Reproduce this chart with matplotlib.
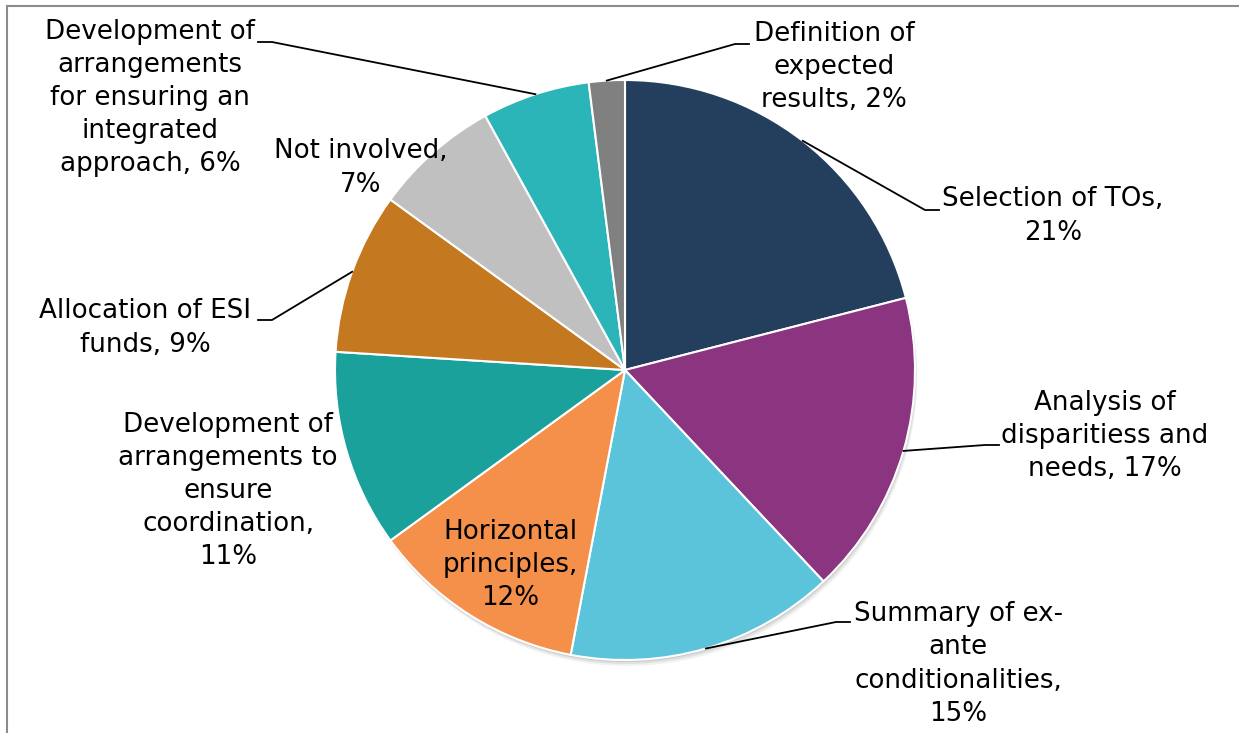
import numpy as np
import matplotlib.pyplot as plt
from matplotlib.patches import Circle

labels = ['Selection of TOs,\n21%',
          'Analysis of\ndisparitiess and\nneeds, 17%',
          'Summary of ex-\nante\nconditionalities,\n15%',
          'Horizontal\nprinciples,\n12%',
          'Development of\narrangements to\nensure\ncoordination,\n11%',
          'Allocation of ESI\nfunds, 9%',
          'Not involved,\n7%',
          'Development of\narrangements\nfor ensuring an\nintegrated\napproach, 6%',
          'Definition of\nexpected\nresults, 2%']
shares = [21, 17, 15, 12, 11, 9, 7, 6, 2]
colors = ['#243f5e', '#8b3480', '#5bc4da', '#f4904a', '#1ba19c',
          '#c4781f', '#c0c0c0', '#2cb5b8', '#808080']

W, H = 1239, 733
fig = plt.figure(figsize=(W / 100, H / 100), dpi=100)
ax = fig.add_axes([0, 0, 1, 1])

cx, cy, R = 625, H - 370, 290

# soft shadow under the pie
for k, a in [(6, 0.05), (4, 0.07), (2, 0.10)]:
    ax.add_patch(Circle((cx + k * 0.4, cy - k), R, color='black', alpha=a, lw=0, zorder=0))

wedges, _ = ax.pie(shares, colors=colors, startangle=90, counterclock=False,
                   center=(cx, cy), radius=R, frame=True,
                   wedgeprops=dict(edgecolor='white', linewidth=1.5))
ax.set_xlim(0, W)
ax.set_ylim(0, H)
ax.set_aspect('equal')
ax.axis('off')

fs = 18.8
# label centre (px from top-left), leader elbow (None = no leader), side of tail
place = [
    ((1053, 216), (925, 210), 'left'),
    ((1105, 436), (985, 445), 'left'),
    ((958, 664), (836, 622), 'left'),
    ((510, 565), None, None),
    ((228, 491), None, None),
    ((145, 328), (272, 320), 'right'),
    ((361, 168), None, None),
    ((150, 98), (272, 42), 'right'),
    ((834, 67), (735, 44), 'left'),
]

for w, lab, (pos, elbow, side) in zip(wedges, labels, place):
    ax.text(pos[0], H - pos[1], lab, ha='center', va='center', fontsize=fs,
            linespacing=1.36, color='black', family='DejaVu Sans', zorder=5)
    if elbow is None:
        continue
    mid = np.deg2rad((w.theta1 + w.theta2) / 2)
    px, py = cx + R * np.cos(mid), cy + R * np.sin(mid)
    ex, ey = elbow[0], H - elbow[1]
    tail = ex + 14 if side == 'left' else ex - 14
    ax.plot([px, ex, tail], [py, ey, ey], color='black', lw=1.3, zorder=4)

# chart area border
fig.add_artist(plt.Line2D([7 / W, 1], [1 - 6 / H, 1 - 6 / H], color='#8c8c8c', lw=1.5))
fig.add_artist(plt.Line2D([7 / W, 7 / W], [0, 1 - 6 / H], color='#8c8c8c', lw=1.5))

plt.savefig('out.png', dpi=100)
